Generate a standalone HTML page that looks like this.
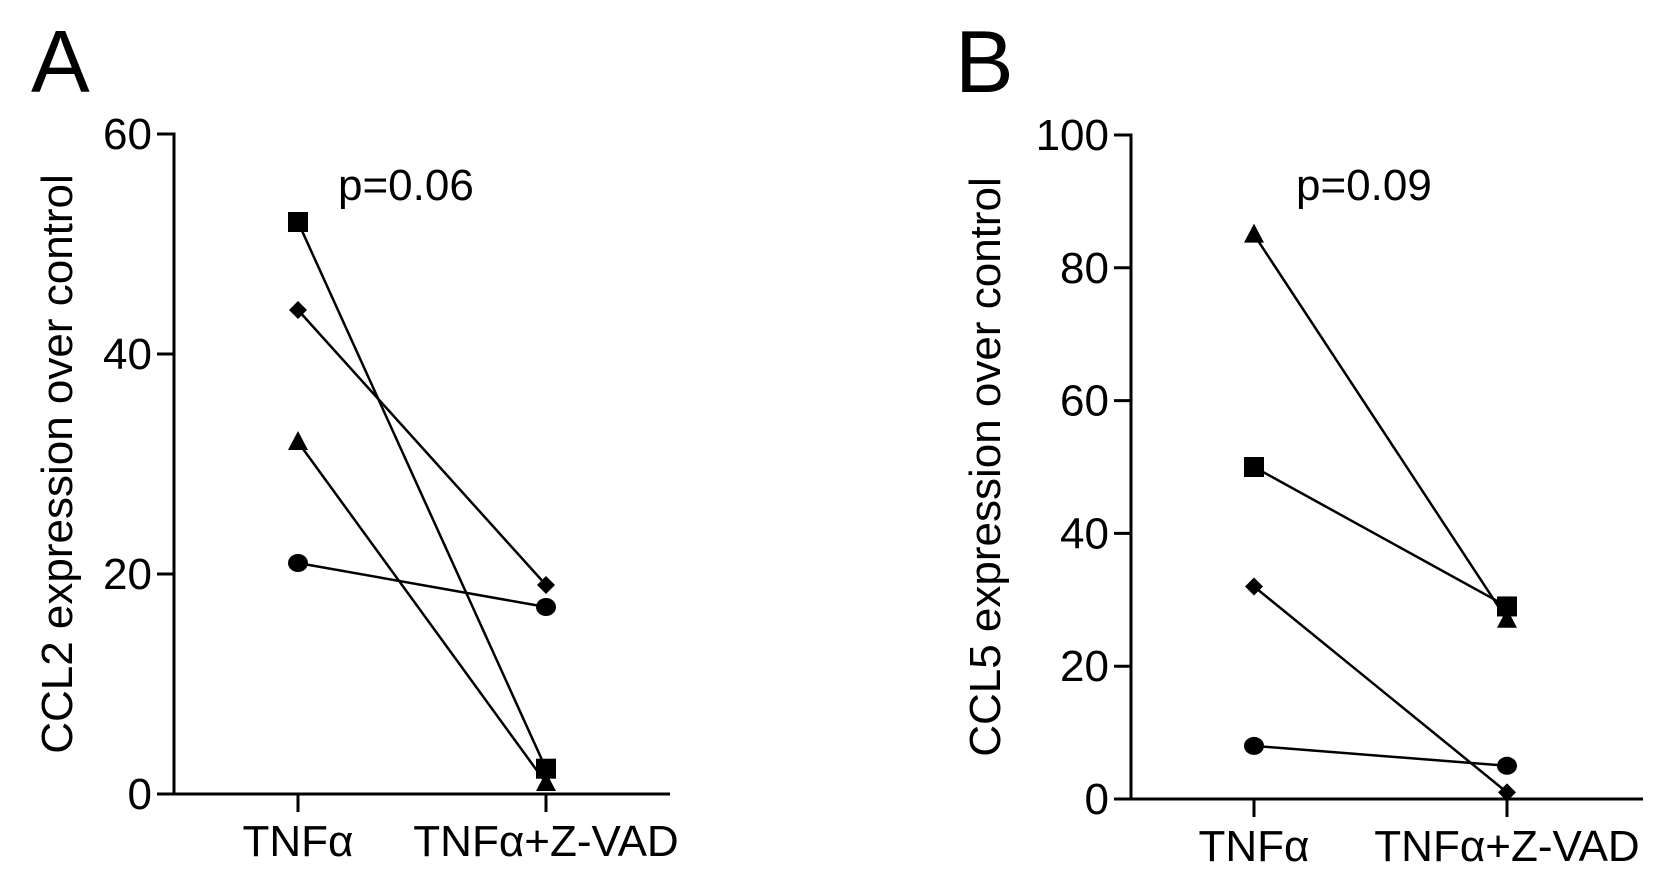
<!DOCTYPE html>
<html><head><meta charset="utf-8"><style>
html,body{margin:0;padding:0;background:#fff;}
svg{display:block;font-family:"Liberation Sans",Arial,sans-serif;}
</style></head><body>
<svg id="fig" width="1668" height="888" viewBox="0 0 1668 888" xmlns="http://www.w3.org/2000/svg">
<text x="31" y="92" font-size="88">A</text>
<text x="955" y="92" font-size="88">B</text>
</svg>
<script>
const groupsA = ["TNFα","TNFα+Z-VAD"];
const ticksA = [0,20,40,60];
const squareA = [52,2.3];
const diamondA = [44,19];
const triangleA = [32,1];
const circleA = [21,17];
const ticksB = [0,20,40,60,80,100];
const triangleB = [85,27];
const squareB = [50,29];
const diamondB = [32,1];
const circleB = [8,5];
const NS="http://www.w3.org/2000/svg";
const svg=document.getElementById('fig');
function mk(tag,attrs,parent){const e=document.createElementNS(NS,tag);for(const k in attrs)e.setAttribute(k,attrs[k]);(parent||svg).appendChild(e);return e;}
function panel(cfg){
  const g=mk('g',{});
  
  
  const y=v=>cfg.bottom-(v/cfg.max)*(cfg.bottom-cfg.top);
  const x=i=>cfg.xs[i];
  const ax=mk('path',{d:`M${cfg.left-17},${cfg.top} H${cfg.left} V${cfg.bottom} H${cfg.right}`,stroke:'#000','stroke-width':3,fill:'none'},g);
  
  
  cfg.ticks.forEach(t=>{
    mk('line',{x1:cfg.left-17,x2:cfg.left,y1:y(t),y2:y(t),stroke:'#000','stroke-width':3},g);
    const tx=mk('text',{x:cfg.left-22,y:y(t)+15,'font-size':44,'text-anchor':'end'},g);
    tx.textContent=t;
    
    
  });
  cfg.groups.forEach((c,i)=>{
    mk('line',{x1:x(i),x2:x(i),y1:cfg.bottom,y2:cfg.bottom+18,stroke:'#000','stroke-width':3},g);
    const tx=mk('text',{x:x(i),y:cfg.bottom+62,'font-size':44,'text-anchor':'middle'},g);
    tx.textContent=c;
    
    
  });
  const yt=mk('text',{x:0,y:0,'font-size':44,'text-anchor':'middle',transform:`translate(${cfg.titleX},${(cfg.top+cfg.bottom)/2}) rotate(-90)`},g);
  yt.textContent=cfg.title;
  
  
  const pt=mk('text',{x:cfg.pX,y:200,'font-size':44},g);
  pt.textContent=cfg.p;
  
  
  cfg.series.forEach(s=>{
    const sg=mk('g',{},g);
    
    
    mk('line',{x1:x(0),y1:y(s.v[0]),x2:x(1),y2:y(s.v[1]),stroke:'#000','stroke-width':2.5},sg);
    s.v.forEach((v,i)=>{
      const cx=x(i),cy=y(v);let m;
      if(s.shape==='square')m=mk('rect',{x:cx-10,y:cy-10,width:20,height:20},sg);
      else if(s.shape==='circle')m=mk('ellipse',{cx:cx,cy:cy,rx:10,ry:9},sg);
      else if(s.shape==='triangle')m=mk('polygon',{points:`${cx},${cy-11} ${cx-10},${cy+8} ${cx+10},${cy+8}`},sg);
      else m=mk('polygon',{points:`${cx},${cy-9} ${cx+9},${cy} ${cx},${cy+9} ${cx-9},${cy}`},sg);
      m.setAttribute('fill','#000');
      
      
    });
  });
}
panel({name:'panel-a-chart',left:174,right:670,top:134,bottom:794,max:60,xs:[298,546],ticks:ticksA,groups:groupsA,title:'CCL2 expression over control',titleX:72,pX:338,p:'p=0.06',
  series:[{shape:'square',v:squareA},{shape:'diamond',v:diamondA},{shape:'triangle',v:triangleA},{shape:'circle',v:circleA}]});
panel({name:'panel-b-chart',left:1131,right:1643,top:135,bottom:799,max:100,xs:[1254,1507],ticks:ticksB,groups:groupsA,title:'CCL5 expression over control',titleX:1000,pX:1296,p:'p=0.09',
  series:[{shape:'triangle',v:triangleB},{shape:'square',v:squareB},{shape:'diamond',v:diamondB},{shape:'circle',v:circleB}]});
</script>
</body></html>
